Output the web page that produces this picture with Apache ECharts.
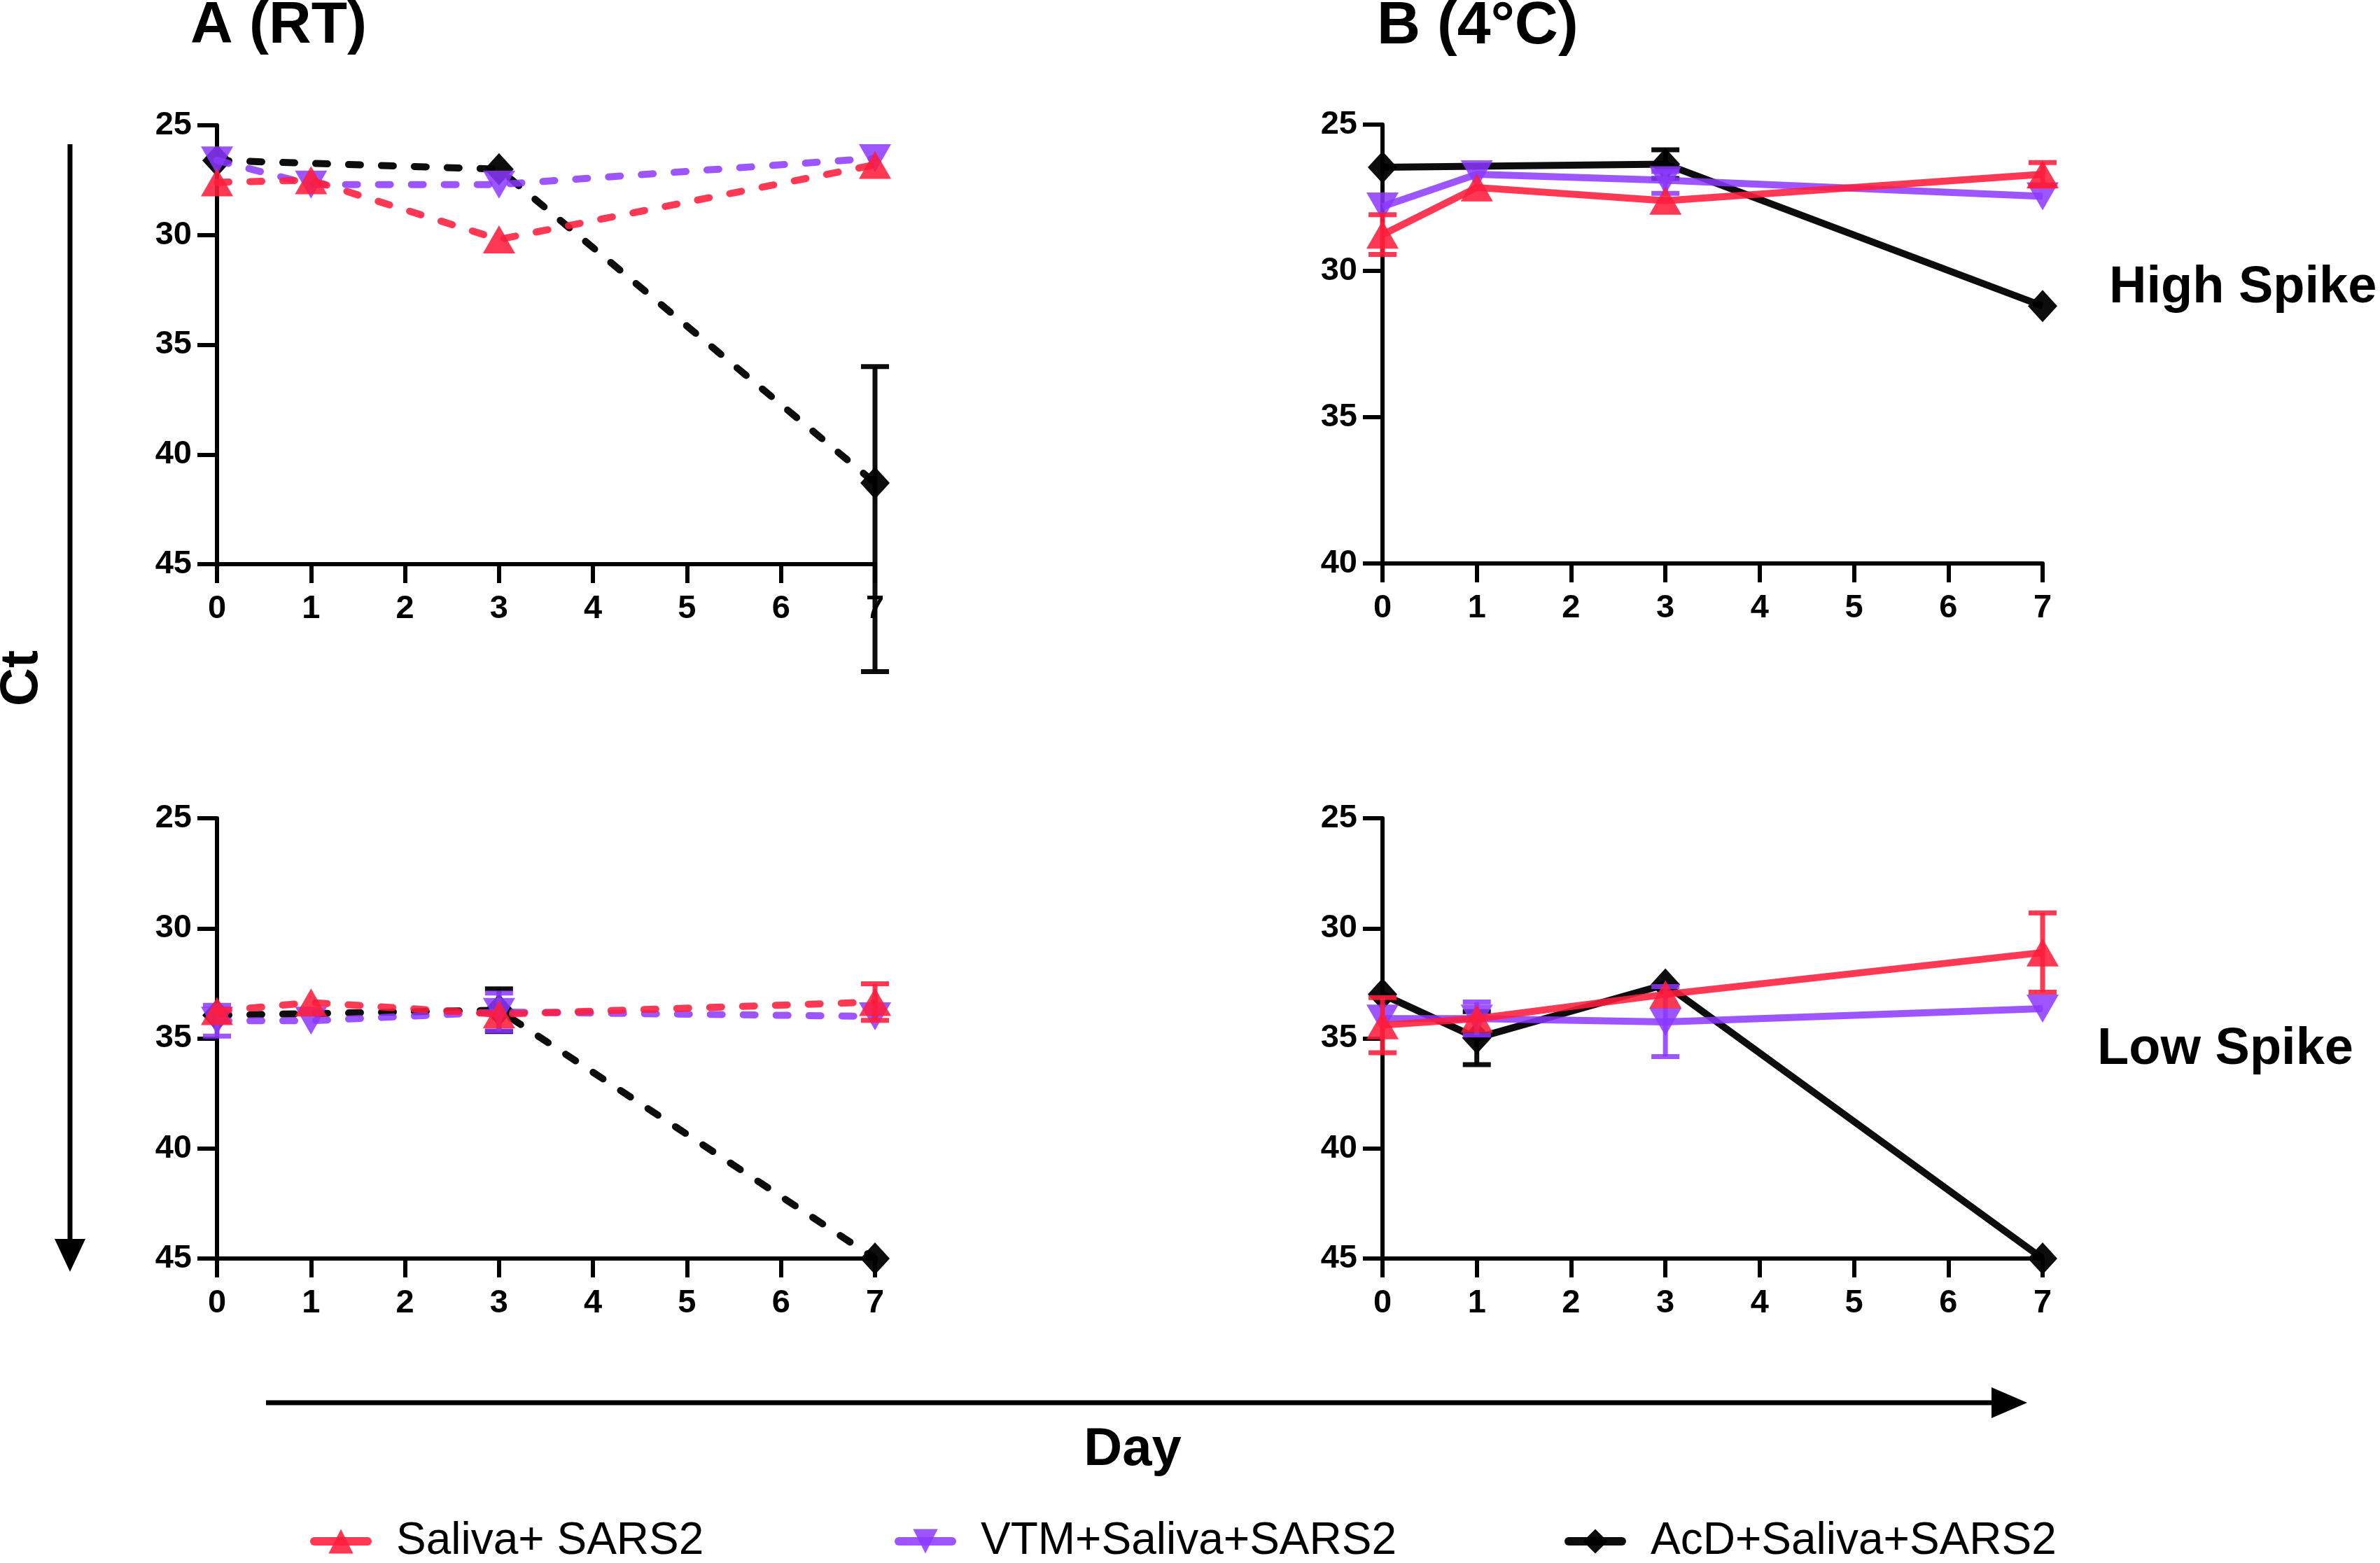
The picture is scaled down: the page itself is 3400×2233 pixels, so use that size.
<!DOCTYPE html>
<html>
<head>
<meta charset="utf-8">
<script src="https://cdn.jsdelivr.net/npm/echarts@6/dist/echarts.min.js"></script>
<style>
  html, body { margin: 0; padding: 0; background: #fff; }
  #chart { width: 3400px; height: 2233px; }
</style>
</head>
<body>
<div id="chart"></div>
<script>
const days = [0, 1, 3, 7]
const seriesNames = ['Saliva+ SARS2', 'VTM+Saliva+SARS2', 'AcD+Saliva+SARS2']
const panelTitles = ['A (RT)', 'B (4°C)']
const rowLabels = ['High Spike', 'Low Spike']

// A (RT), high spike
const rtHighSaliva = [27.6, 27.5, 30.2, 26.8]
const rtHighVtm = [26.6, 27.7, 27.7, 26.5]
const rtHighAcd = [26.6, null, 27.0, 41.3]
const rtHighSalivaErr = [null, null, null, null]
const rtHighVtmErr = [null, null, null, null]
const rtHighAcdErr = [null, null, null, [36.0, 49.9]]

// B (4°C), high spike
const coldHighSaliva = [28.76, 27.15, 27.6, 26.7]
const coldHighVtm = [27.8, 26.7, 26.9, 27.45]
const coldHighAcd = [26.46, null, 26.35, 31.2]
const coldHighSalivaErr = [[28.08, 29.44], null, null, [26.3, 27.1]]
const coldHighVtmErr = [null, null, [26.6, 27.35], null]
const coldHighAcdErr = [null, null, [25.86, 26.84], null]

// A (RT), low spike
const rtLowSaliva = [33.76, 33.37, 33.9, 33.35]
const rtLowVtm = [34.2, 34.2, 33.8, 34.0]
const rtLowAcd = [33.95, null, 33.72, 45]
const rtLowSalivaErr = [null, null, null, [32.52, 34.18]]
const rtLowVtmErr = [[33.5, 34.9], null, [32.94, 34.66], null]
const rtLowAcdErr = [null, null, [32.75, 34.69], null]

// B (4°C), low spike
const coldLowSaliva = [34.4, 34.1, 33.0, 31.1]
const coldLowVtm = [34.1, 34.1, 34.25, 33.65]
const coldLowAcd = [33.0, 34.98, 32.55, 45]
const coldLowSalivaErr = [[33.15, 35.65], null, null, [29.3, 32.9]]
const coldLowVtmErr = [null, [33.35, 34.85], [32.65, 35.83], null]
const coldLowAcdErr = [null, [33.78, 36.19], null, null]

const yMaxes = [45, 40, 45, 45]

const FONT = "'Liberation Sans Narrow', 'Liberation Sans', Arial, sans-serif"
const TEXT_FONT = "'Liberation Sans', Arial, sans-serif"
const colors = ['rgba(255,28,60,0.88)', 'rgba(140,56,255,0.85)', 'rgba(0,0,0,0.95)']
const symbols = ['triangle', 'triangle', 'diamond']
const symbolRotates = [0, 180, 0]
const symbolSizes = [[46, 40], [46, 40], [42, 46]]

const grids = [
  { left: 310, top: 179, width: 940, height: 627 },
  { left: 1975, top: 178, width: 943, height: 627 },
  { left: 310, top: 1169, width: 940, height: 629 },
  { left: 1975, top: 1169, width: 943, height: 629 }
]

const panels = [
  { dashed: true, vals: [rtHighSaliva, rtHighVtm, rtHighAcd], errs: [rtHighSalivaErr, rtHighVtmErr, rtHighAcdErr] },
  { dashed: false, vals: [coldHighSaliva, coldHighVtm, coldHighAcd], errs: [coldHighSalivaErr, coldHighVtmErr, coldHighAcdErr] },
  { dashed: true, vals: [rtLowSaliva, rtLowVtm, rtLowAcd], errs: [rtLowSalivaErr, rtLowVtmErr, rtLowAcdErr] },
  { dashed: false, vals: [coldLowSaliva, coldLowVtm, coldLowAcd], errs: [coldLowSalivaErr, coldLowVtmErr, coldLowAcdErr] }
]

const xAxes = grids.map((g, i) => ({
  type: 'value', gridIndex: i, min: 0, max: 7, interval: 1, position: 'bottom',
  axisLine: { show: true, onZero: false, lineStyle: { color: '#000', width: 6 } },
  axisTick: { show: true, length: 27, lineStyle: { color: '#000', width: 6 } },
  axisLabel: { margin: 41, fontSize: 47, fontWeight: 'bold', color: '#000', fontFamily: FONT },
  splitLine: { show: false }
}))

const yAxes = grids.map((g, i) => ({
  type: 'value', gridIndex: i, inverse: true, min: 25, max: yMaxes[i], interval: 5,
  axisLine: { show: true, onZero: false, lineStyle: { color: '#000', width: 6 } },
  axisTick: { show: true, length: 28, lineStyle: { color: '#000', width: 6 } },
  axisLabel: { margin: 36, fontSize: 47, fontWeight: 'bold', color: '#000', fontFamily: FONT },
  splitLine: { show: false }
}))

const errorSeries = (gi, errs, color, z) => {
  const data = []
  errs.forEach((e, i) => { if (e) data.push([days[i], e[0], e[1]]) })
  return {
    type: 'custom', xAxisIndex: gi, yAxisIndex: gi, clip: false, silent: true, z,
    encode: { x: 0, y: [1, 2] },
    data,
    renderItem: (params, api) => {
      const x = api.value(0)
      const lo = api.coord([x, api.value(1)])
      const hi = api.coord([x, api.value(2)])
      const w = 20
      const style = { stroke: color, lineWidth: 7 }
      return {
        type: 'group',
        children: [
          { type: 'line', shape: { x1: lo[0], y1: lo[1], x2: hi[0], y2: hi[1] }, style },
          { type: 'line', shape: { x1: lo[0] - w, y1: lo[1], x2: lo[0] + w, y2: lo[1] }, style },
          { type: 'line', shape: { x1: hi[0] - w, y1: hi[1], x2: hi[0] + w, y2: hi[1] }, style }
        ]
      }
    }
  }
}

const series = []
panels.forEach((p, gi) => {
  // draw order: AcD below, VTM, Saliva on top
  ;[2, 1, 0].forEach((k, order) => {
    const z = 2 + order * 2
    series.push(errorSeries(gi, p.errs[k], colors[k], z))
    series.push({
      name: seriesNames[k],
      type: 'line', xAxisIndex: gi, yAxisIndex: gi, z: z + 1,
      data: days.map((d, i) => [d, p.vals[k][i]]),
      connectNulls: true,
      clip: false,
      symbol: symbols[k], symbolRotate: symbolRotates[k], symbolSize: symbolSizes[k],
      showSymbol: true,
      itemStyle: { color: colors[k], borderWidth: 0 },
      lineStyle: {
        color: colors[k], width: 10,
        type: p.dashed ? [17, 30] : 'solid',
        cap: p.dashed ? 'round' : 'butt'
      },
      silent: true
    })
  })
})

const legendLefts = [438, 1273, 2230]
const legends = seriesNames.map((n, i) => ({
  data: [n], left: legendLefts[i], top: 2165, orient: 'horizontal',
  itemWidth: 76, itemHeight: 44, selectedMode: false,
  lineStyle: { type: 'solid', width: 12 },
  textStyle: { fontSize: 64, color: '#000', fontFamily: TEXT_FONT, padding: [0, 0, 0, 36] }
}))

const textEl = (text, x, y, size, align) => ({
  type: 'text', x, y,
  style: { text, fontSize: size, fontWeight: 'bold', fill: '#000', fontFamily: TEXT_FONT, verticalAlign: 'middle', align: align || 'left' }
})

const graphic = [
  textEl(panelTitles[0], 272, 38, 84),
  textEl(panelTitles[1], 1967, 38, 86),
  textEl(rowLabels[0], 3013, 412, 74),
  textEl(rowLabels[1], 2996, 1500, 74),
  textEl('Day', 1618, 2072, 76, 'center'),
  { type: 'text', x: 32, y: 969, rotation: Math.PI / 2,
    style: { text: 'Ct', fontSize: 76, fontWeight: 'bold', fill: '#000', fontFamily: TEXT_FONT, align: 'center', verticalAlign: 'middle' } },
  // vertical Ct arrow
  { type: 'line', shape: { x1: 100, y1: 206, x2: 100, y2: 1775 }, style: { stroke: '#000', lineWidth: 7 } },
  { type: 'polygon', shape: { points: [[78, 1770], [122, 1770], [100, 1817]] }, style: { fill: '#000' } },
  // horizontal Day arrow
  { type: 'line', shape: { x1: 380, y1: 2004, x2: 2850, y2: 2004 }, style: { stroke: '#000', lineWidth: 7 } },
  { type: 'polygon', shape: { points: [[2845, 1982], [2845, 2026], [2896, 2004]] }, style: { fill: '#000' } }
]

const chart = echarts.init(document.getElementById('chart'))
chart.setOption({
  animation: false,
  backgroundColor: '#fff',
  grid: grids,
  xAxis: xAxes,
  yAxis: yAxes,
  legend: legends,
  graphic,
  series
})
</script>
</body>
</html>
